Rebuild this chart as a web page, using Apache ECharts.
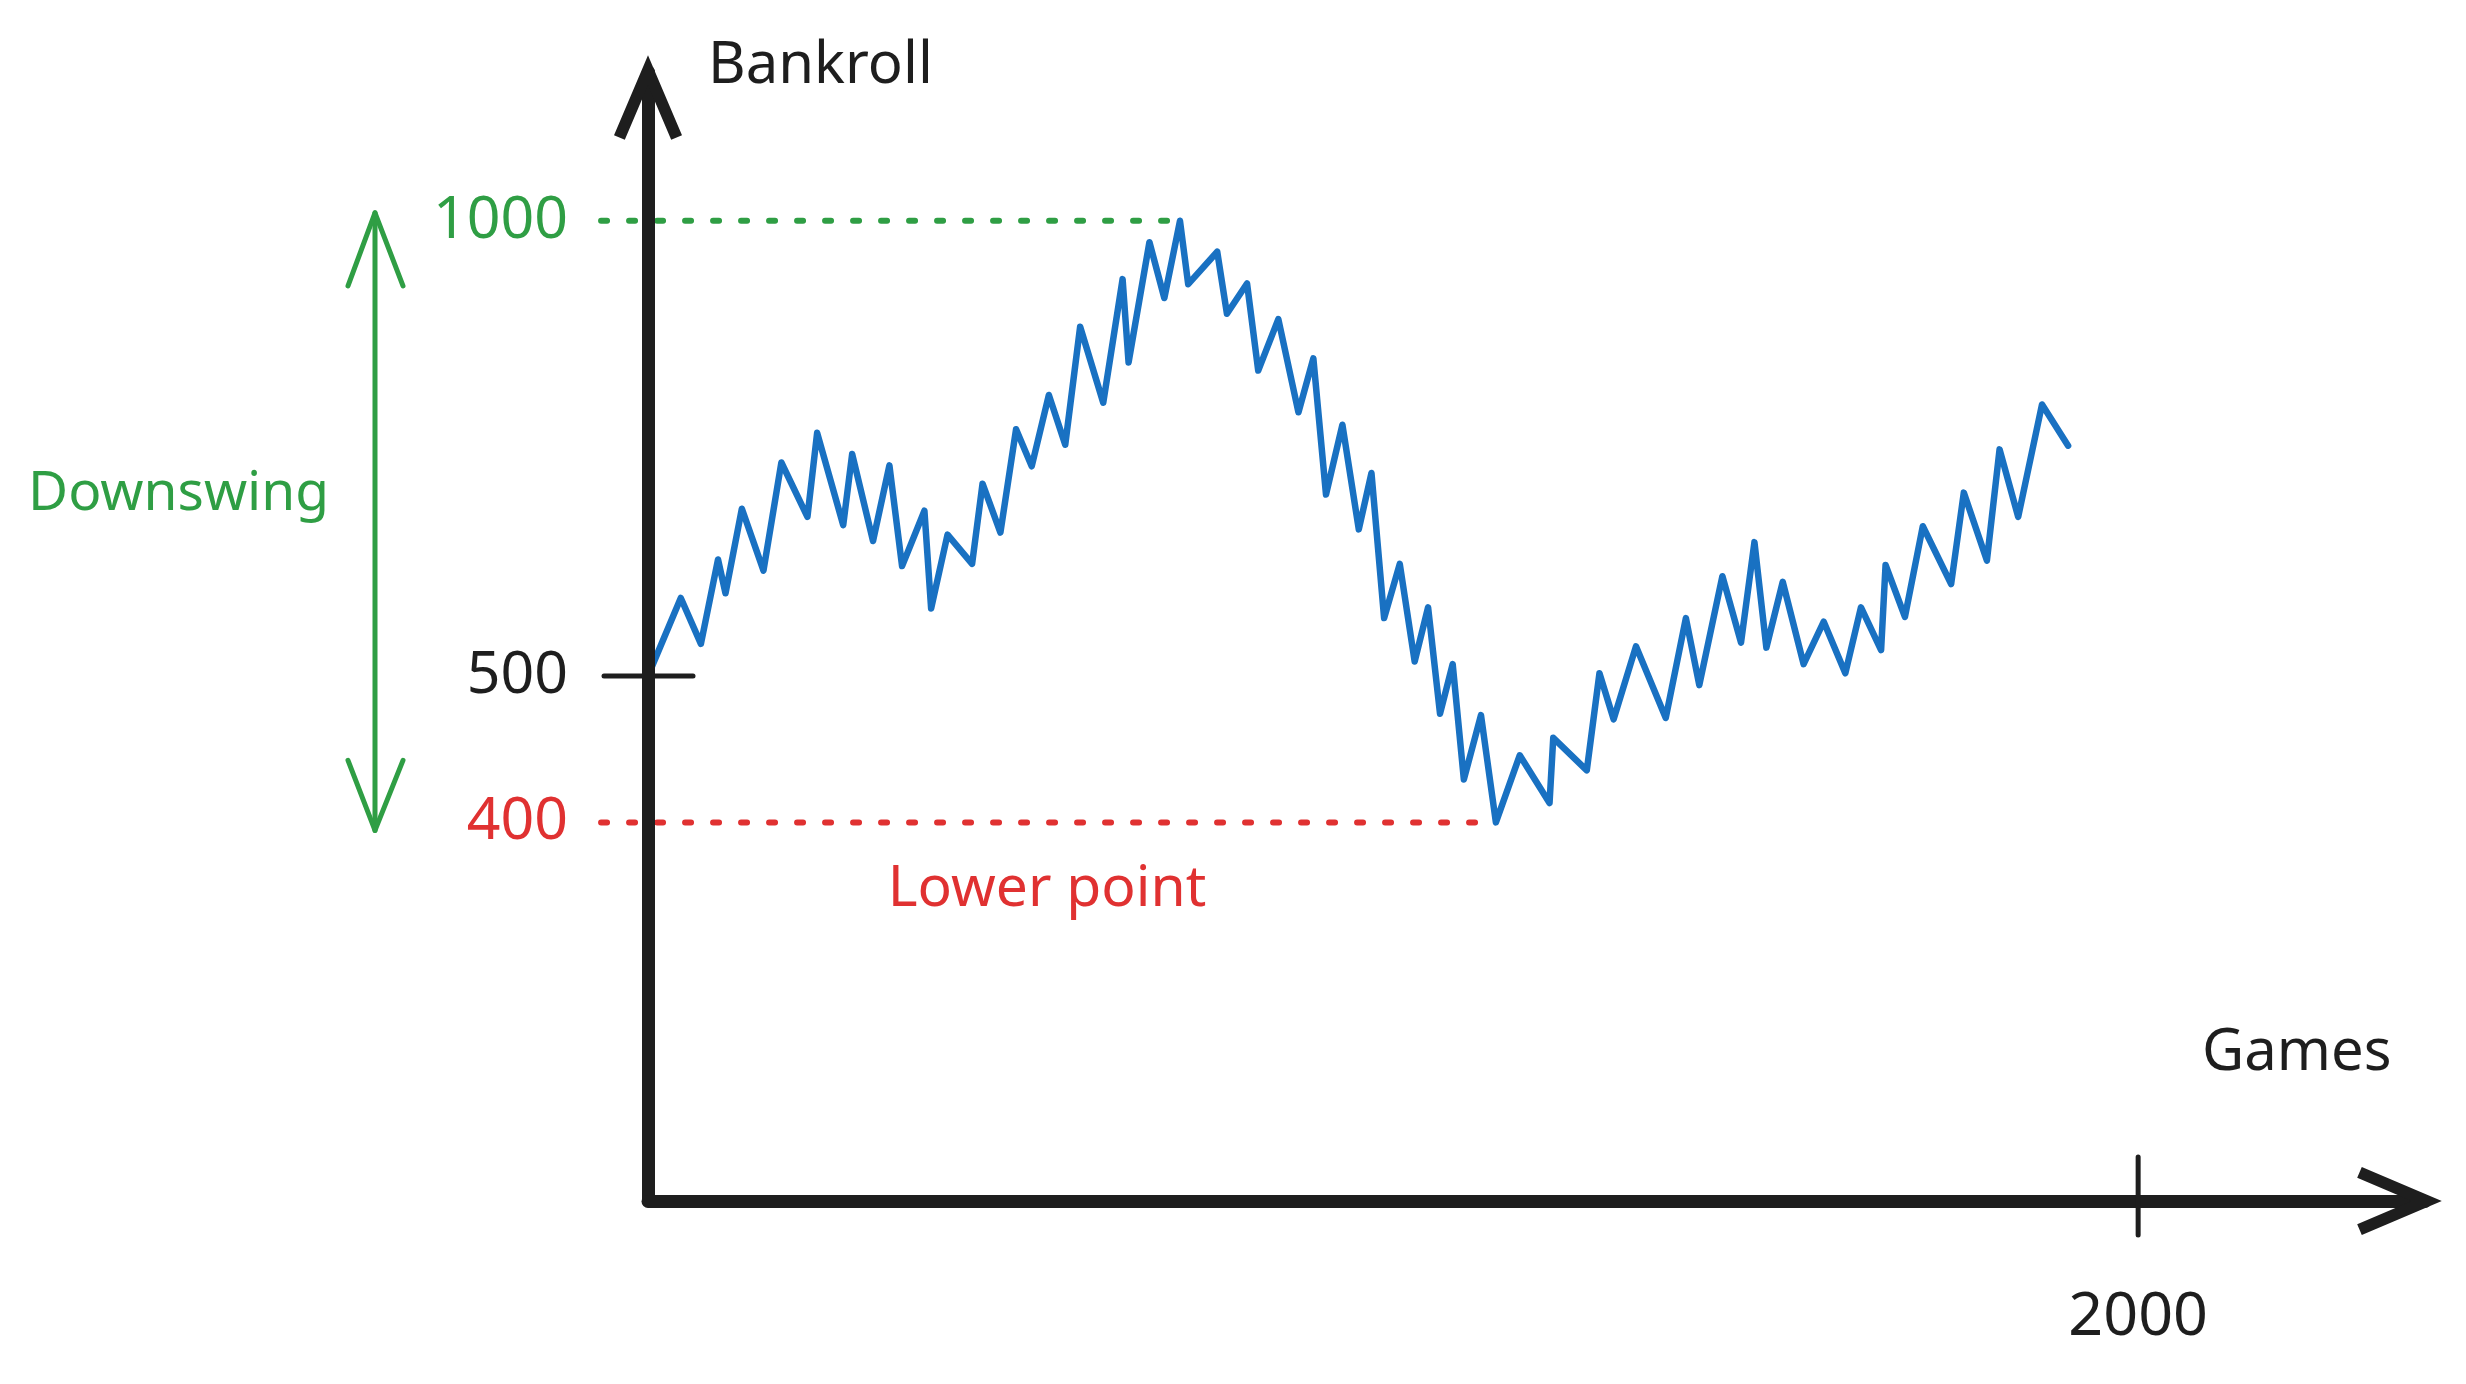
<!DOCTYPE html>
<html><head><meta charset="utf-8">
<script src="https://cdn.jsdelivr.net/npm/echarts@6/dist/echarts.min.js"></script>
<style>html,body{margin:0;padding:0;background:#fff}#c{width:2466px;height:1384px}</style>
</head><body><div id="c"></div>
<script>
// ---- data ----
const games = [0,44,71,94,104,126,155,179,214,227,262,274,302,324,341,371,380,402,435,449,473,494,515,538,560,580,611,637,645,673,693,714,725,764,777,804,819,846,873,893,910,932,954,971,988,1009,1029,1047,1063,1080,1095,1118,1138,1170,1210,1215,1260,1277,1296,1326,1366,1393,1411,1442,1467,1485,1501,1523,1551,1578,1607,1628,1655,1661,1687,1711,1749,1766,1797,1814,1839,1871,1906];
const bankroll = [500,563,525,597,567,645,587,692,637,724,629,701,614,689,591,643,554,620,593,670,622,728,688,767,711,851,758,915,806,968,889,1000,908,954,868,909,796,861,747,811,659,733,625,681,546,593,511,555,472,509,427,471,400,443,412,455,433,502,468,523,469,546,493,582,526,613,522,577,509,543,502,555,520,592,547,628,575,661,596,706,637,756,710];
const yTickValues = [400, 500, 1000];
const yTickColors = ['#e03131', '#1e1e1e', '#2f9e44'];
const xTickValues = [2000];
const peakGame = 714, peakValue = 1000;
const lowGame = 1138, lowValue = 400;
const refStartGame = -63;

const INK = '#1e1e1e', GREEN = '#2f9e44', RED = '#e03131', BLUE = '#1971c2';
const FONT = '"Noto Sans", "DejaVu Sans", sans-serif';
const ARROW = 'path://M34,0 L68,80 L57.2,84.6 L34,30 L10.8,84.6 L0,80 Z';
const Y_MIN = 224.7, Y_MAX = 1254.4;

const chart = echarts.init(document.getElementById('c'), null, {renderer: 'canvas'});
const axisLineStyle = {color: INK, width: 13, cap: 'round'};

chart.setOption({
  backgroundColor: '#ffffff',
  animation: false,
  grid: {left: 648, right: 41, top: 72, bottom: 183, containLabel: false},
  xAxis: {
    type: 'value', min: 0, max: 2385, z: 5,
    splitLine: {show: false}, axisTick: {show: false},
    axisLine: {show: true, onZero: false, lineStyle: axisLineStyle,
      symbol: ['none', ARROW], symbolSize: [68, 85], symbolOffset: [0, -25.5]},
    axisLabel: {customValues: xTickValues, margin: 86, fontSize: 61, fontFamily: FONT, color: INK,
      formatter: v => String(v)}
  },
  yAxis: {
    type: 'log', logBase: 10, min: Y_MIN, max: Y_MAX, z: 5,
    splitLine: {show: false}, axisTick: {show: false}, minorTick: {show: false},
    axisLine: {show: true, onZero: false, lineStyle: axisLineStyle,
      symbol: ['none', ARROW], symbolSize: [68, 85], symbolOffset: [0, -25.5]},
    axisLabel: {customValues: yTickValues, margin: 80, fontSize: 59, fontFamily: FONT,
      color: (v) => yTickColors[yTickValues.indexOf(Math.round(+v))] || INK,
      formatter: v => String(Math.round(v))}
  },
  series: [
    {type: 'line', name: 'Bankroll', symbol: 'none', z: 3, clip: false,
     data: games.map((g, i) => [g, bankroll[i]]),
     lineStyle: {color: BLUE, width: 6.5, cap: 'round', join: 'round'}}
  ]
});

const P = (x, y) => chart.convertToPixel({gridIndex: 0}, [x, y]);
const p500 = P(0, 500), p2000 = P(2000, Y_MIN);
const gA = P(refStartGame, peakValue), gB = P(peakGame, peakValue);
const rA = P(refStartGame, lowValue), rB = P(lowGame, lowValue);
const ax = 375, arrowTop = gA[1] - 8, arrowBot = rA[1] + 8;
const txt = (text, x, y, size, color, align) => ({type: 'text', silent: true, z: 10,
  style: {text, x, y, fontSize: size, fontFamily: FONT, fill: color, align: align || 'left', verticalAlign: 'middle'}});
const dotted = (a, b, color) => ({type: 'line', silent: true, z: 1,
  shape: {x1: a[0], y1: a[1], x2: b[0], y2: b[1]},
  style: {stroke: color, lineWidth: 6, lineCap: 'round', lineDash: [6, 22]}});

chart.setOption({
  graphic: [
    dotted(gA, gB, GREEN),
    dotted(rA, rB, RED),
    {type: 'line', silent: true, z: 6, shape: {x1: p500[0] - 44, y1: p500[1], x2: p500[0] + 45, y2: p500[1]},
     style: {stroke: INK, lineWidth: 5, lineCap: 'round'}},
    {type: 'line', silent: true, z: 6, shape: {x1: p2000[0], y1: p2000[1] - 44, x2: p2000[0], y2: p2000[1] + 34},
     style: {stroke: INK, lineWidth: 5, lineCap: 'round'}},
    {type: 'polyline', silent: true, shape: {points: [[ax, arrowTop], [ax, arrowBot]]}, style: {stroke: GREEN, lineWidth: 5, lineCap: 'round'}},
    {type: 'polyline', silent: true, shape: {points: [[ax - 27, arrowTop + 73], [ax, arrowTop], [ax + 28, arrowTop + 73]]},
     style: {stroke: GREEN, lineWidth: 5, lineCap: 'round', lineJoin: 'round', fill: null}},
    {type: 'polyline', silent: true, shape: {points: [[ax - 27, arrowBot - 70], [ax, arrowBot], [ax + 28, arrowBot - 70]]},
     style: {stroke: GREEN, lineWidth: 5, lineCap: 'round', lineJoin: 'round', fill: null}},
    txt('Bankroll', 708, 66, 58, INK),
    txt('Games', 2202, 1053, 58, INK),
    txt('Downswing', 28, 494, 55, GREEN),
    txt('Lower point', 1047, 890, 57, RED, 'center')
  ]
});
</script></body></html>
